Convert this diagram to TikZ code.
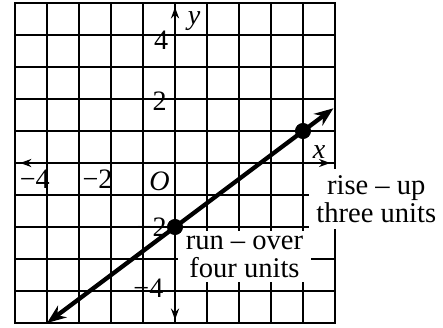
\documentclass[tikz,border=0pt]{standalone}
\usepackage{fontspec}
\setmainfont{Liberation Serif}
\usetikzlibrary{arrows.meta}
\begin{document}
\begin{tikzpicture}[x=0.5cm,y=0.5cm,
  gridline/.style={line width=0.9pt},
  frame/.style={line width=1.1pt},
  axis/.style={line width=1.2pt,{Stealth[length=5pt,width=3.6pt]}-{Stealth[length=5pt,width=3.6pt]}},
  graphline/.style={line width=1.9pt,{Stealth[length=8.5pt,width=6.5pt]}-{Stealth[length=8.5pt,width=6.5pt]}},
  runrise/.style={line width=1.2pt},
  ticklabel/.style={font=\fontsize{12.5}{12.5}\selectfont,inner sep=0pt},
  notebox/.style={fill=white,inner sep=0pt,align=center,font=\fontsize{12.7}{12.4}\selectfont},
  dot/.style={circle,fill=black,inner sep=0pt,minimum size=7pt}
]
\useasboundingbox (-5.47,-5.156) rectangle (8.375,5.094);
\draw[gridline,step=0.5cm] (-5,-5) grid (5,5);
\draw[frame] (-5,-5) rectangle (5,5);
% white label boxes
\node[notebox,minimum width=2.085cm,minimum height=0.8cm] (run) at (2.17,-2.93) {run – over\\four units};
\node[notebox,minimum width=2.09cm,minimum height=0.93cm] (rise) at (6.29,-1.12) {rise – up\\three units};
% run and rise
\coordinate (c) at (4,-2);
\node[dot] (p) at (0,-2) {};
\node[dot] (q) at (4,1) {};
\draw[runrise] (p.center) -- (c) -- (q.center);
% axes
\coordinate (xl) at (-4.84,0);
\coordinate (xr) at (4.85,0);
\coordinate (yb) at (0,-4.9);
\coordinate (yt) at (0,4.87);
\draw[axis] (xl) -- (xr);
\draw[axis] (yb) -- (yt);
% graph line
\coordinate (a) at (-4,-5);
\coordinate (b) at (4.95,1.71);
\draw[graphline] (a) -- (b);
\node[dot] at (p) {};
\node[dot] at (q) {};
% labels
\node[ticklabel,anchor=east] (y4) at (-0.2,3.85) {4};
\node[ticklabel,anchor=east] (y2) at (-0.25,1.92) {2};
\node[ticklabel,anchor=east] (ym2) at (-0.25,-2.0) {−2};
\node[ticklabel,anchor=east] (ym4) at (-0.35,-3.9) {−4};
\node[ticklabel,anchor=east] (xm4) at (-3.9,-0.5) {−4};
\node[ticklabel,anchor=east] (xm2) at (-1.94,-0.5) {−2};
\node[ticklabel,anchor=east] (o) at (-0.15,-0.58) {\textit{O}};
\node[ticklabel] (xlab) at (4.5,0.34) {\textit{x}};
\node[ticklabel] (ylab) at (0.6,4.45) {\textit{y}};
\end{tikzpicture}
\end{document}
